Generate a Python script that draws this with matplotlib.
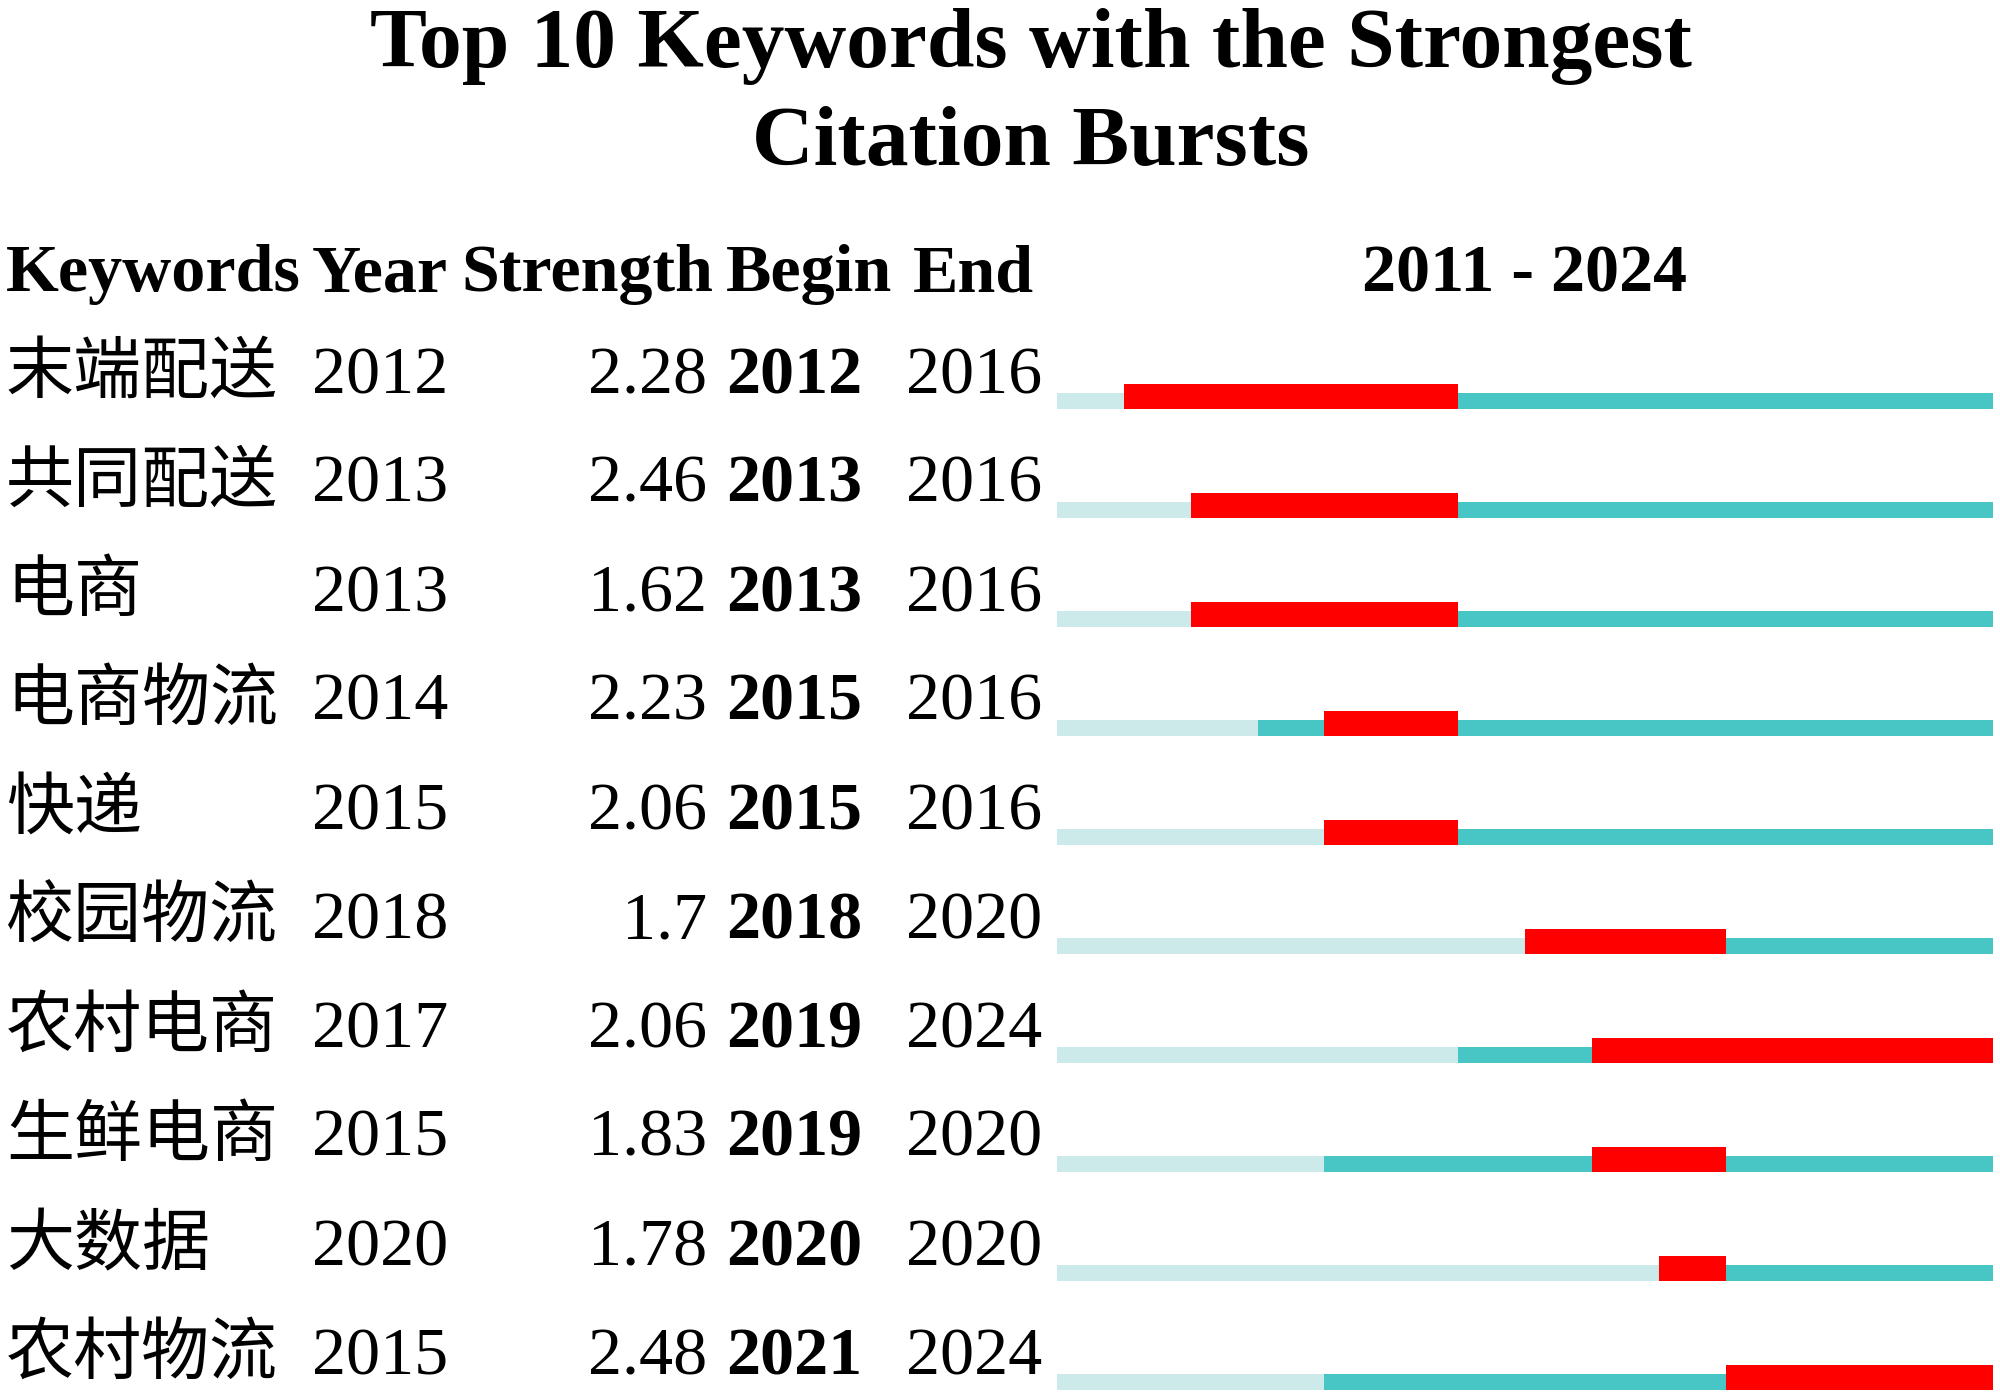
import matplotlib
matplotlib.use('Agg')
import matplotlib.pyplot as plt
import matplotlib.transforms as mtransforms

plt.rcParams['font.family'] = ['Liberation Serif', 'Noto Sans CJK SC']

# Datos del gráfico de ráfagas de citas
keywords = ['末端配送', '共同配送', '电商', '电商物流', '快递',
            '校园物流', '农村电商', '生鲜电商', '大数据', '农村物流']
years = [2012, 2013, 2013, 2014, 2015, 2018, 2017, 2015, 2020, 2015]
strength = ['2.28', '2.46', '1.62', '2.23', '2.06', '1.7', '2.06', '1.83', '1.78', '2.48']
begin = [2012, 2013, 2013, 2015, 2015, 2018, 2019, 2019, 2020, 2021]
end = [2016, 2016, 2016, 2016, 2016, 2020, 2024, 2020, 2020, 2024]

start_year = 2011
last_year = 2024

light = '#CDEAEA'
teal = '#48C6C6'
red = '#FF0000'

W, H = 2000, 1393
fig = plt.figure(figsize=(W / 100, H / 100), dpi=100)

# Ejes para las barras (1 unidad = 1 fila, 1 año = 1 unidad)
ax = fig.add_axes([1057 / W, 0, 936 / W, (H - 300) / H])
ax.set_xlim(start_year, last_year + 1)
ax.set_ylim((H - 409) / 109, (300 - 409) / 109)
ax.axis('off')

thin = 16 / 109
thick = 25 / 109
for i in range(len(keywords)):
    # antes de aparecer
    ax.barh(i - thin, years[i] - start_year, left=start_year, height=thin,
            align='edge', color=light, linewidth=0)
    # después de aparecer
    ax.barh(i - thin, last_year + 1 - years[i], left=years[i], height=thin,
            align='edge', color=teal, linewidth=0)
    # ráfaga
    ax.barh(i - thick, end[i] + 1 - begin[i], left=begin[i], height=thick,
            align='edge', color=red, linewidth=0)

# Texto: x en coordenadas de figura, y en datos
trans = mtransforms.blended_transform_factory(fig.transFigure, ax.transData)
fs = 49
for i in range(len(keywords)):
    yb = i - thin
    ax.text(6 / W, yb, keywords[i], transform=trans, fontsize=fs, va='baseline', ha='left', clip_on=False)
    ax.text(312 / W, yb, str(years[i]), transform=trans, fontsize=fs, va='baseline', ha='left', clip_on=False)
    ax.text(707 / W, yb, strength[i], transform=trans, fontsize=fs, va='baseline', ha='right', clip_on=False)
    ax.text(726 / W, yb, str(begin[i]), transform=trans, fontsize=fs, va='baseline', ha='left',
            fontweight='bold', clip_on=False)
    ax.text(906 / W, yb, str(end[i]), transform=trans, fontsize=fs, va='baseline', ha='left', clip_on=False)

# Encabezados
hy = 1 - 291 / H
fig.text(6 / W, hy, 'Keywords', fontsize=fs, fontweight='bold', va='baseline')
fig.text(312 / W, hy, 'Year', fontsize=fs, fontweight='bold', va='baseline')
fig.text(461 / W, hy, 'Strength', fontsize=fs, fontweight='bold', va='baseline')
fig.text(726 / W, hy, 'Begin', fontsize=fs, fontweight='bold', va='baseline')
fig.text(913 / W, hy, 'End', fontsize=fs, fontweight='bold', va='baseline')
fig.text(1525 / W, hy, f'{start_year} - {last_year}', fontsize=fs, fontweight='bold',
         va='baseline', ha='center')

# Título
fig.text(1031 / W, 1 - 67 / H, 'Top 10 Keywords with the Strongest', fontsize=61.5,
         fontweight='bold', ha='center', va='baseline')
fig.text(1031 / W, 1 - 165 / H, 'Citation Bursts', fontsize=61.5,
         fontweight='bold', ha='center', va='baseline')

fig.savefig('out.png', dpi=100, facecolor='white')
